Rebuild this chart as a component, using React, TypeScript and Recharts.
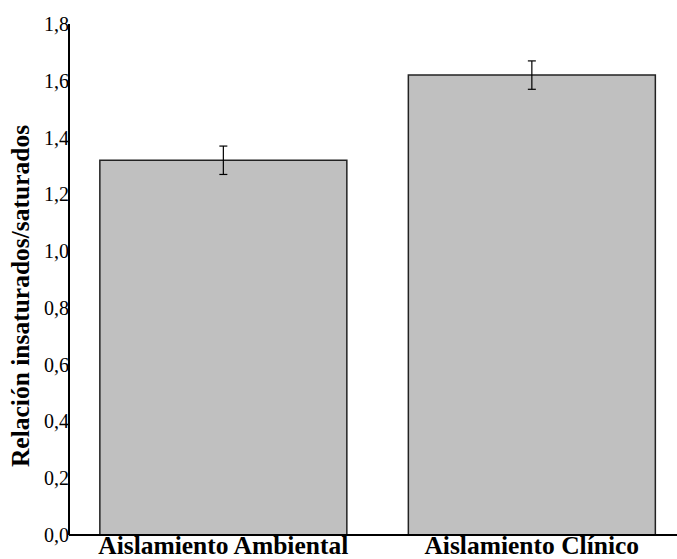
import { BarChart, Bar, XAxis, YAxis, ErrorBar } from "recharts";

const CATEGORIES = ["Aislamiento Ambiental", "Aislamiento Clínico"];
const RATIO = [1.32, 1.62];
const ERROR = [0.05, 0.05];
const Y_TICKS = [0, 0.2, 0.4, 0.6, 0.8, 1.0, 1.2, 1.4, 1.6, 1.8];

const data = CATEGORIES.map((name, i) => ({ name, value: RATIO[i], err: ERROR[i] }));

const FONT = "Liberation Serif";

function YTick({ x, y, payload }: any) {
  return (
    <text x={x} y={y} dy={7} textAnchor="end" fill="#000" fontSize={20} fontFamily={FONT}>
      {Number(payload.value).toFixed(1).replace(".", ",")}
    </text>
  );
}

function XTick({ x, y, payload }: any) {
  return (
    <text x={x} y={y} dy={19} textAnchor="middle" fill="#000" fontSize={25.5} fontWeight="bold" fontFamily={FONT}>
      {payload.value}
    </text>
  );
}

export default function App() {
  return (
    <div
      style={{
        position: "fixed",
        left: 0,
        top: 0,
        width: 677,
        height: 559,
        overflow: "hidden",
        background: "#fff",
      }}
    >
      <BarChart
        width={700}
        height={559}
        data={data}
        margin={{ top: 24, right: 14, left: 0, bottom: 0 }}
        barCategoryGap="10%"
      >
        <XAxis
          dataKey="name"
          height={24}
          tickLine={false}
          tickSize={0}
          tickMargin={0}
          axisLine={{ stroke: "#000", strokeWidth: 2 }}
          tick={<XTick />}
          interval={0}
        />
        <YAxis
          width={69}
          domain={[0, 1.8]}
          ticks={Y_TICKS}
          tickLine={false}
          tickSize={0}
          tickMargin={0}
          axisLine={{ stroke: "#000", strokeWidth: 2 }}
          tick={<YTick />}
        />
        <Bar
          dataKey="value"
          fill="#c0c0c0"
          stroke="#222"
          strokeWidth={1.5}
          isAnimationActive={false}
        >
          <ErrorBar dataKey="err" width={4} stroke="#000" strokeWidth={1.2} isAnimationActive={false} />
        </Bar>
        <text
          x={0}
          y={0}
          transform="translate(29, 296) rotate(-90)"
          textAnchor="middle"
          fill="#000"
          fontSize={25.5}
          fontWeight="bold"
          fontFamily={FONT}
        >
          Relación insaturados/saturados
        </text>
      </BarChart>
    </div>
  );
}
